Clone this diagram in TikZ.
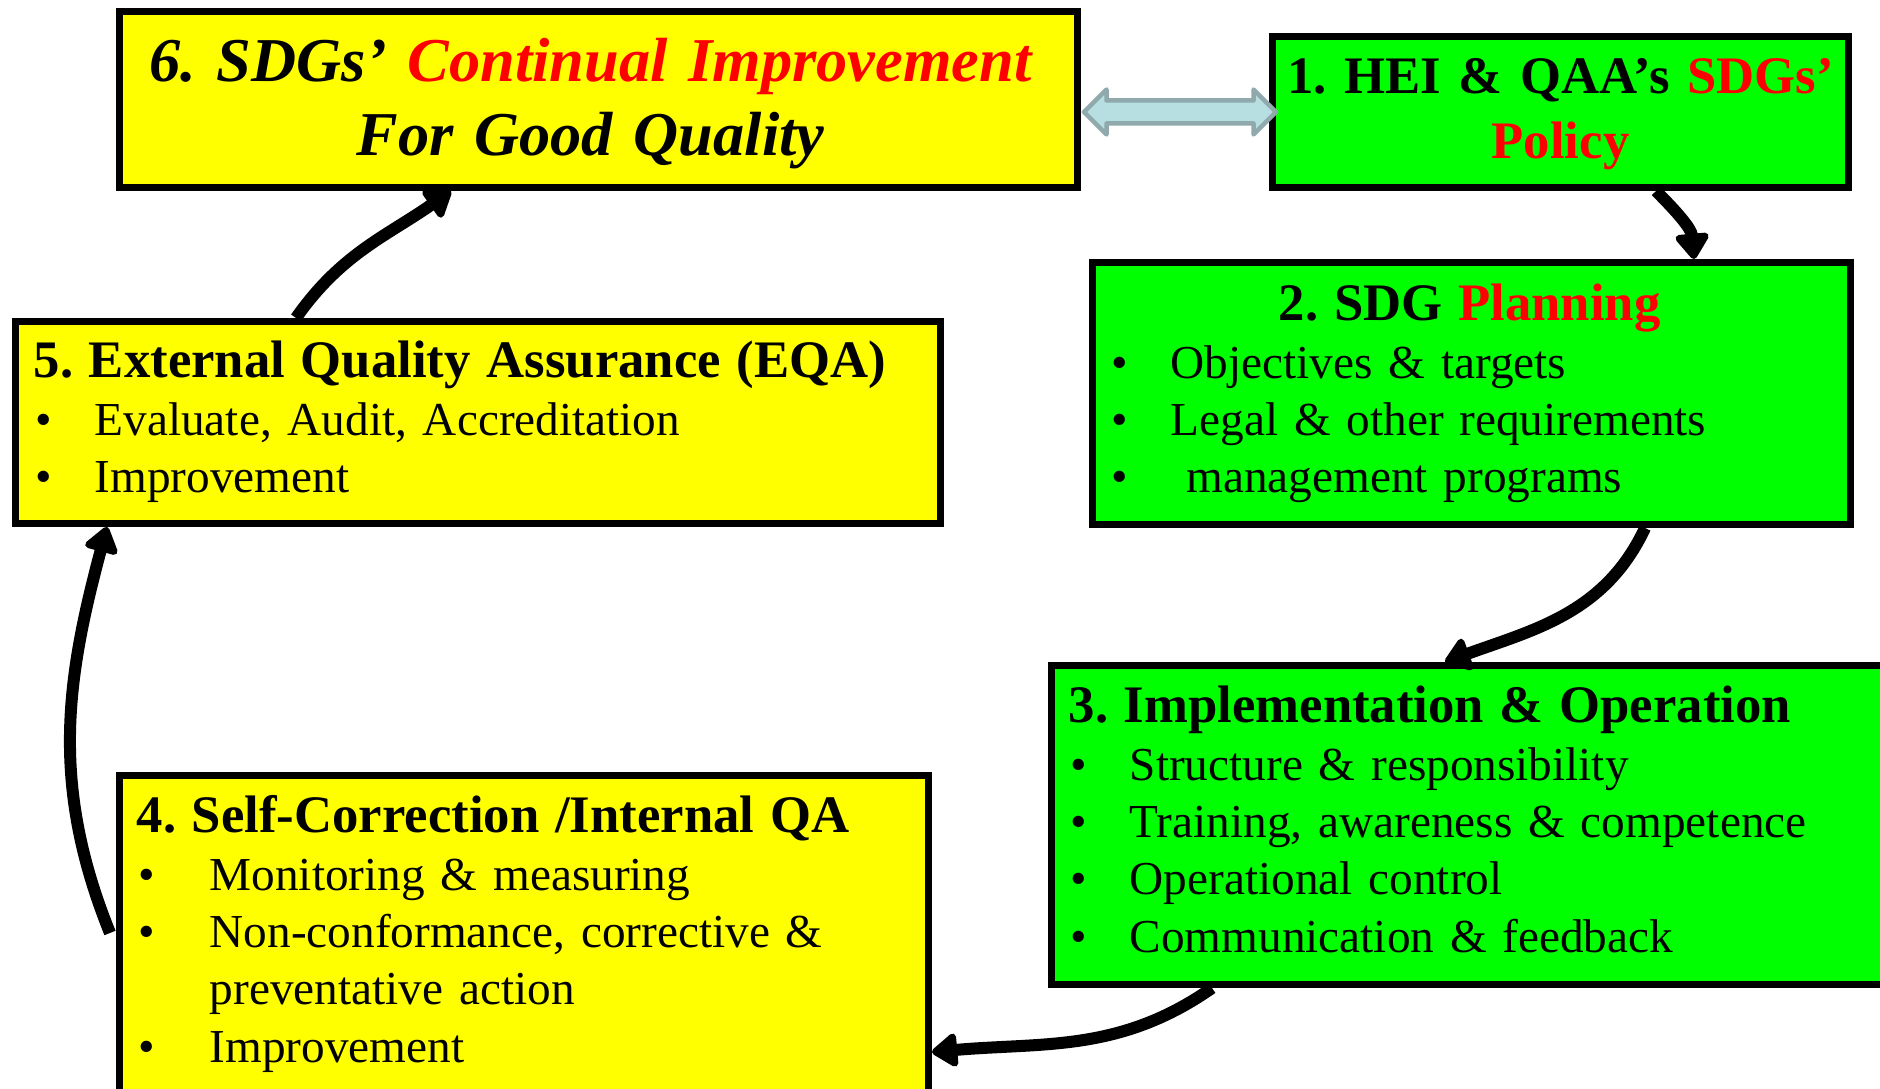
\documentclass[tikz,border=0pt]{standalone}
\usepackage{fontspec}
\setmainfont{Liberation Serif}
\usetikzlibrary{arrows.meta,positioning,calc}
\definecolor{boxyellow}{HTML}{FFFF00}
\definecolor{boxgreen}{HTML}{00FF00}
\definecolor{linkfill}{HTML}{B7DFE2}
\definecolor{linkdraw}{HTML}{8FA9AC}
\frenchspacing
\newcommand{\redtxt}[1]{\textcolor{red}{#1}}
\newcommand{\ttl}{\bfseries\fontsize{15}{16.3}\selectfont}
\newcommand{\itm}[2][5.9mm]{\hspace*{0.2mm}\makebox[#1][l]{\textbullet}#2}
\begin{document}
\begin{tikzpicture}[
  stagebox/.style={draw,line width=0.7mm,inner sep=0pt,anchor=north west},
  txt/.style={inner sep=0pt,align=left,font=\fontsize{13.45}{16.3}\selectfont},
  flow/.style={line width=1.2mm,-{Triangle[length=2.8mm,width=3.8mm,round]}},
  link/.style={draw=linkdraw,fill=linkfill,line width=0.45mm,line join=round}]
   \useasboundingbox (0,0) rectangle (18.8,10.89);
   \node[stagebox,fill=boxyellow,minimum width=9.58cm,minimum height=1.76cm] (imp) at (1.16,10.81) {};
   \node[stagebox,fill=boxgreen,minimum width=5.76cm,minimum height=1.51cm] (pol) at (12.69,10.56) {};
   \node[stagebox,fill=boxgreen,minimum width=7.58cm,minimum height=2.62cm] (plan) at (10.89,8.30) {};
   \node[stagebox,fill=boxgreen,minimum width=8.6cm,minimum height=3.19cm] (oper) at (10.48,4.27) {};
   \node[stagebox,fill=boxyellow,minimum width=8.09cm,minimum height=3.5cm] (self) at (1.16,3.17) {};
   \node[stagebox,fill=boxyellow,minimum width=9.25cm,minimum height=2.02cm] (eqa) at (0.12,7.71) {};
   \node[txt,anchor=base,text width=9.4cm,align=center,font=\bfseries\itshape\fontsize{17.75}{21}\selectfont] (imp-t) at ([xshift=-0.8mm,yshift=-7.4mm]imp.north) {6. SDGs' \redtxt{Continual Improvement}\\For Good Quality};
   \node[txt,anchor=base,text width=5.6cm,align=center,font=\bfseries\fontsize{15}{18.4}\selectfont] (pol-t) at ([yshift=-6.1mm]pol.north) {1. HEI \& QAA's \redtxt{SDGs'}\\\redtxt{Policy}};
   \node[txt,anchor=base west,text width=7.2cm] (plan-t) at ([xshift=2mm,yshift=-6.2mm]plan.north west) {\makebox[\linewidth]{\ttl 2. SDG \redtxt{Planning}}\\ \itm{Objectives \& targets}\\ \itm{Legal \& other requirements}\\ \itm{\ management programs}};
   \node[txt,anchor=base west,text width=7.5cm] (oper-t) at ([xshift=2mm,yshift=-6.1mm]oper.north west) {{\ttl 3. Implementation \& Operation}\\ \itm{Structure \& responsibility}\\ \itm{Training, awareness \& competence}\\ \itm{Operational control}\\ \itm{Communication \& feedback}};
   \node[txt,anchor=base west,text width=7.6cm] (self-t) at ([xshift=2mm,yshift=-6.1mm]self.north west) {{\ttl 4. Self-Correction /Internal QA}\\ \itm[7.1mm]{Monitoring \& measuring}\\ \itm[7.1mm]{Non-conformance, corrective \&}\\ \hspace*{7.3mm}preventative action\\ \itm[7.1mm]{Improvement}};
   \node[txt,anchor=base west,text width=8.8cm] (eqa-t) at ([xshift=2.1mm,yshift=-6mm]eqa.north west) {{\ttl 5. External Quality Assurance (EQA)}\\ \itm{Evaluate, Audit, Accreditation}\\ \itm{Improvement}};
   \draw[link] ([xshift=0.3mm]imp.east |- pol.west) -- ++(2.25mm,2.25mm) -- ++(0,-1.1mm) -- ++(14.7mm,0) -- ++(0,1.1mm) -- ++(2.25mm,-2.25mm) -- ++(-2.25mm,-2.25mm) -- ++(0,1.1mm) -- ++(-14.7mm,0) -- ++(0,-1.1mm) -- cycle;
   \draw[flow] ([xshift=38.7mm]pol.south west) to[out=-45,in=95] ([xshift=60.5mm]plan.north west);
   \draw[flow] ([xshift=55.6mm]plan.south west) to[out=-115,in=20] ([xshift=39.7mm]oper.north west);
   \draw[flow] ([xshift=16.4mm]oper.south west) to[out=-145,in=5] ([yshift=-28mm]self.north east);
   \draw[flow] ([xshift=-0.6mm,yshift=-16.1mm]self.north west) to[out=112,in=-105] ([xshift=9.5mm]eqa.south west);
   \draw[flow] ([xshift=28.4mm]eqa.north west) to[out=55,in=-145] ([xshift=33.5mm]imp.south west);
\end{tikzpicture}
\end{document}
